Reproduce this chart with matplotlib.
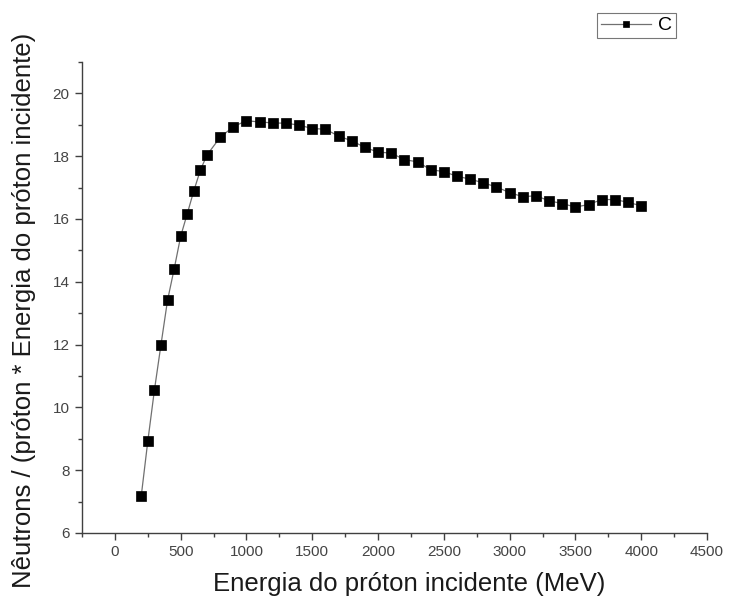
import matplotlib
matplotlib.use("Agg")
import matplotlib.pyplot as plt
from matplotlib.ticker import MultipleLocator

plt.rcParams['font.family'] = ['Liberation Sans', 'DejaVu Sans']

energy = [200, 250, 300, 350, 400, 450, 500, 550, 600, 650, 700, 800, 900, 1000,
          1100, 1200, 1300, 1400, 1500, 1600, 1700, 1800, 1900, 2000, 2100, 2200,
          2300, 2400, 2500, 2600, 2700, 2800, 2900, 3000, 3100, 3200, 3300, 3400,
          3500, 3600, 3700, 3800, 3900, 4000]
neutrons = [7.17, 8.92, 10.54, 11.99, 13.41, 14.40, 15.45, 16.17, 16.90, 17.56, 18.04,
            18.60, 18.94, 19.13, 19.09, 19.06, 19.05, 18.99, 18.88, 18.86, 18.64,
            18.49, 18.28, 18.13, 18.10, 17.89, 17.82, 17.57, 17.51, 17.36, 17.27,
            17.15, 17.02, 16.84, 16.71, 16.74, 16.58, 16.49, 16.38, 16.46, 16.62,
            16.62, 16.53, 16.42]
series_label = "C"
xlabel = "Energia do próton incidente (MeV)"
ylabel = "Nêutrons / (próton * Energia do próton incidente)"

fig = plt.figure(figsize=(7.32, 6.10), dpi=100)
ax = fig.add_axes([82/732, 77/610, (707-82)/732, (533-62)/610])

ax.plot(energy, neutrons, color='#707070', lw=0.9, marker='s', markersize=6.5,
        markeredgewidth=0.5,
        markerfacecolor='black', markeredgecolor='black', label=series_label)

ax.set_xlim(-250, 4500)
ax.set_ylim(6, 21)
ax.xaxis.set_minor_locator(MultipleLocator(250))
ax.yaxis.set_minor_locator(MultipleLocator(1))
ax.set_xticks(range(0, 4501, 500))
ax.set_yticks(range(6, 21, 2))

for s in ['top', 'right']:
    ax.spines[s].set_visible(False)
for s in ['left', 'bottom']:
    ax.spines[s].set_color('#404040')
    ax.spines[s].set_linewidth(1.0)

ax.tick_params(which='major', direction='out', length=5, width=1, color='#404040',
               labelsize=11, labelcolor='#444444', pad=4)
ax.tick_params(which='minor', direction='out', length=3, width=1, color='#404040')

ax.set_xlabel(xlabel, fontsize=18.5, color='#1a1a1a')
ax.set_ylabel(ylabel, fontsize=18.5, color='#1a1a1a')
ax.xaxis.set_label_coords(0.523, -0.083)
ax.yaxis.set_label_coords(-0.073, 0.473)

leg = fig.legend(loc='upper left', bbox_to_anchor=(597/732, 1 - 13/610),
                 fontsize=14, frameon=True, fancybox=False, edgecolor='#555555',
                 handlelength=2.6, borderpad=0.2, handletextpad=0.35,
                 borderaxespad=0, markerscale=0.75)
leg.get_frame().set_linewidth(0.8)

fig.savefig('out.png', dpi=100)
